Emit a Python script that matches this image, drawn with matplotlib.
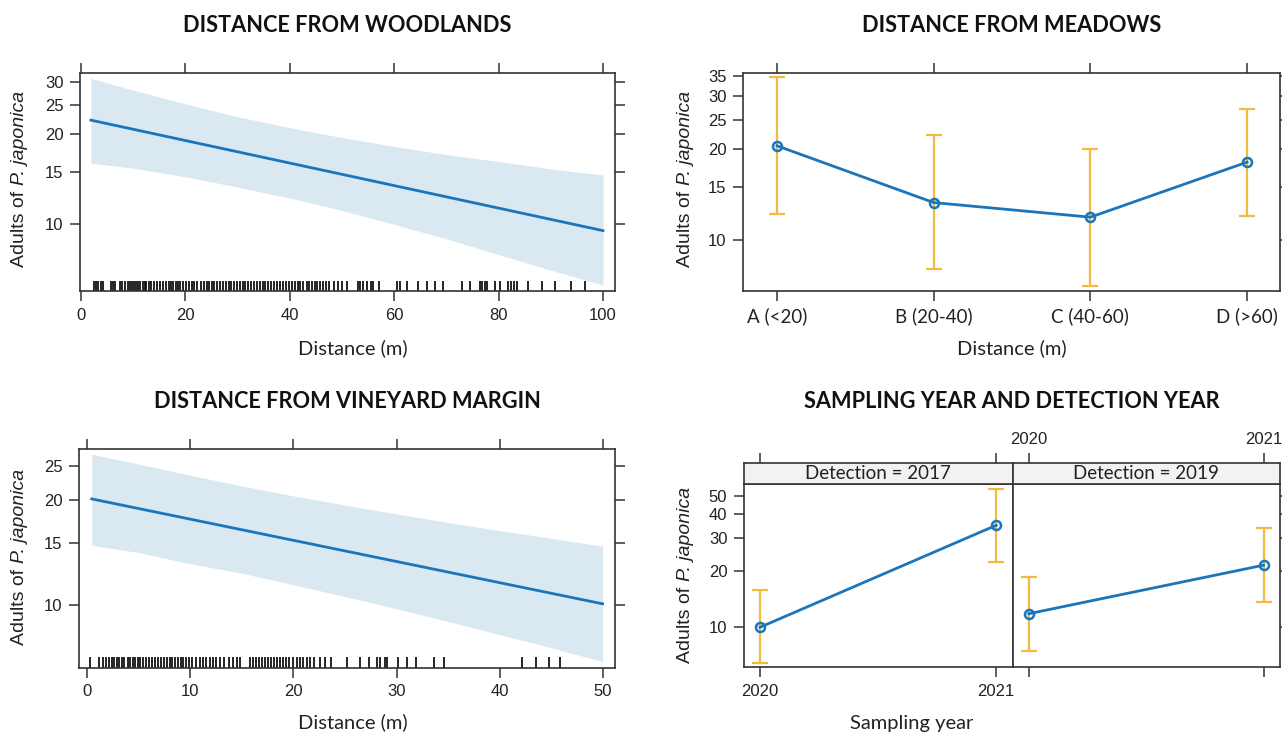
import matplotlib.pyplot as plt
from matplotlib.ticker import NullLocator

plt.rcParams['font.family'] = ['Liberation Sans', 'DejaVu Sans']

# --- data ---
# distance from woodlands (m)
wood_line_x = [1.9, 100]
wood_line_y = [22.3, 9.5]
wood_band_x = [1.9, 10, 20, 30, 42, 50, 60, 70, 80, 90, 100]
wood_band_hi = [30.8, 28.1, 25.3, 22.9, 20.7, 19.5, 18.2, 17.1, 16.2, 15.3, 14.6]
wood_band_lo = [16.0, 15.4, 14.4, 13.3, 12.0, 11.1, 9.97, 8.92, 7.9, 7.0, 6.24]
wood_rug = [2.4, 2.8, 3.2, 3.9, 4.3, 5.8, 6.2, 6.6, 7.4, 7.8, 8.5, 9.0, 9.3, 9.7,
            10.2, 10.6, 11.0, 11.3, 11.8, 12.2, 12.5, 13.0, 13.4, 13.9, 14.6, 15.1,
            15.7, 16.3, 16.8, 17.2, 17.6, 18.1, 18.6, 19.0, 19.5, 20.1, 20.6, 21.2,
            21.7, 22.3, 23.0, 23.6, 24.2, 24.6, 25.0, 25.5, 26.0, 26.6, 27.2, 27.8,
            28.3, 28.8, 29.3, 29.8, 30.4, 31.0, 31.5, 32.0, 32.6, 33.1, 33.7, 34.3,
            34.8, 35.3, 35.9, 36.4, 37.0, 37.6, 38.2, 38.7, 39.3, 39.8, 40.4, 41.0,
            41.5, 42.0, 42.6, 43.2, 43.7, 44.3, 44.8, 45.3, 45.8, 46.3, 47.0, 47.6,
            48.4, 49.2, 50.0, 51.0, 53.0, 53.5, 54.0, 54.8, 55.5, 56.0, 57.0, 60.5,
            61.2, 62.4, 64.5, 66.3, 67.8, 69.3, 73.0, 74.5, 76.4, 76.9, 77.3, 77.8,
            79.3, 80.3, 81.8, 82.3, 82.9, 83.5, 85.6, 88.3, 90.8, 93.9, 96.6]

# distance from meadows (classes)
meadow_labels = ['A (<20)', 'B (20-40)', 'C (40-60)', 'D (>60)']
meadow_fit = [20.5, 13.3, 11.9, 18.1]
meadow_hi = [34.5, 22.3, 20.0, 27.1]
meadow_lo = [12.2, 8.0, 7.05, 12.0]

# distance from vineyard margin (m)
vine_line_x = [0.43, 50]
vine_line_y = [20.1, 10.05]
vine_band_x = [0.43, 5, 10, 15, 20, 25, 30, 35, 40, 45, 50]
vine_band_hi = [27.0, 25.3, 23.5, 21.9, 20.5, 19.3, 18.2, 17.2, 16.3, 15.5, 14.7]
vine_band_lo = [14.8, 14.1, 13.1, 12.3, 11.4, 10.55, 9.73, 8.95, 8.2, 7.52, 6.86]
vine_rug = [0.26, 1.1, 1.5, 1.8, 2.1, 2.4, 2.6, 2.9, 3.1, 3.4, 3.6, 3.9, 4.1, 4.4,
            4.6, 4.9, 5.1, 5.4, 5.7, 6.0, 6.3, 6.6, 6.9, 7.1, 7.4, 7.7, 8.0, 8.2,
            8.5, 8.8, 9.1, 9.3, 9.6, 9.9, 10.2, 10.5, 10.9, 11.2, 11.5, 11.9, 12.2,
            12.5, 12.9, 13.3, 13.7, 14.1, 14.5, 14.8, 15.8, 16.1, 16.4, 16.7, 16.9,
            17.2, 17.5, 17.8, 18.1, 18.4, 18.7, 19.0, 19.3, 19.6, 20.0, 20.3, 20.6,
            20.9, 21.3, 21.6, 22.0, 22.6, 23.1, 23.6, 25.2, 26.5, 27.3, 28.1, 28.4,
            28.9, 29.1, 30.1, 31.0, 31.9, 33.6, 34.6, 42.2, 43.5, 44.8, 45.9]

# sampling year x detection year
years = ['2020', '2021']
det_panels = ['Detection = 2017', 'Detection = 2019']
det_fit = [[10.0, 34.9], [11.8, 21.4]]
det_hi = [[15.7, 54.4], [18.5, 33.6]]
det_lo = [[6.48, 22.3], [7.48, 13.6]]

# --- styling ---
W, H = 1282, 734
BLUE = '#1b75bb'
BAND = '#d9e8f1'
ORANGE = '#f4b942'
FRAME = '#333333'
TXT = '#222222'
LABEL_FONT = ['Lato', 'DejaVu Sans']

fig = plt.figure(figsize=(W / 100, H / 100), dpi=100)
renderer = fig.canvas.get_renderer()


def box(l, t, r, b):
    return fig.add_axes([l / W, 1 - b / H, (r - l) / W, (b - t) / H])


def frame(ax):
    for s in ax.spines.values():
        s.set_color(FRAME)
        s.set_linewidth(1.2)
    ax.tick_params(which='both', direction='out', length=7, width=1.1, pad=5,
                   color=FRAME, labelcolor=TXT, labelsize=12,
                   top=True, right=True, labeltop=False, labelright=False)


def log_y(ax, lim, ticks):
    ax.set_yscale('log')
    ax.set_ylim(*lim)
    ax.set_yticks(ticks)
    ax.set_yticklabels([str(t) for t in ticks])
    ax.yaxis.set_minor_locator(NullLocator())


def title(x, y, s):
    fig.text(x / W, 1 - y / H, s, ha='center', va='center', fontsize=15.7,
             fontweight='bold', family=LABEL_FONT, color='#111111')


def xlab(x, y, s):
    fig.text(x / W, 1 - y / H, s, ha='center', va='center', fontsize=14.5,
             family=LABEL_FONT, color=TXT)


def ylab(xc, yc):
    # "Adults of" upright, species name in italics, stacked along one rotated line
    kw = dict(rotation=90, rotation_mode='anchor', ha='left', va='center',
              fontsize=14, color=TXT)
    t1 = fig.text(0, 0, 'Adults of', **kw)
    t2 = fig.text(0, 0, 'P. japonica', style='italic', **kw)
    l1 = t1.get_window_extent(renderer).height
    l2 = t2.get_window_extent(renderer).height
    gap = 5.4
    start = yc + (l1 + gap + l2) / 2
    t1.set_position((xc / W, 1 - start / H))
    t2.set_position((xc / W, 1 - (start - l1 - gap) / H))


def rug(ax, vals):
    ax.vlines(vals, 0, 0.047, transform=ax.get_xaxis_transform(),
              color='black', lw=1.2)


# woodlands
ax = box(80, 73, 615, 291)
frame(ax)
ax.fill_between(wood_band_x, wood_band_lo, wood_band_hi, color=BAND, lw=0)
ax.plot(wood_line_x, wood_line_y, color=BLUE, lw=2)
rug(ax, wood_rug)
ax.set_xlim(-0.2, 102.3)
ax.set_xticks([0, 20, 40, 60, 80, 100])
log_y(ax, (5.96, 32.1), [10, 15, 20, 25, 30])
ylab(20, 179)
xlab(353, 348, 'Distance (m)')
title(347, 25, 'DISTANCE FROM WOODLANDS')

# meadows
ax = box(743, 73, 1280, 291)
frame(ax)
pos = [1, 2, 3, 4]
yerr = [[f - l for f, l in zip(meadow_fit, meadow_lo)],
        [h - f for f, h in zip(meadow_fit, meadow_hi)]]
ax.errorbar(pos, meadow_fit, yerr=yerr, fmt='none', ecolor=ORANGE,
            elinewidth=1.6, capsize=5.5, capthick=1.6)
ax.plot(pos, meadow_fit, color=BLUE, lw=2, marker='o', ms=6.5, mfc='none',
        mew=1.8)
ax.set_xlim(0.783, 4.21)
ax.set_xticks(pos)
ax.set_xticklabels(meadow_labels, family=LABEL_FONT, fontsize=13.5)
log_y(ax, (6.78, 35.7), [10, 15, 20, 25, 30, 35])
ylab(685, 179)
xlab(1012, 348, 'Distance (m)')
title(1012, 25, 'DISTANCE FROM MEADOWS')

# vineyard margin
ax = box(79.3, 449.3, 615, 667.7)
frame(ax)
ax.fill_between(vine_band_x, vine_band_lo, vine_band_hi, color=BAND, lw=0)
ax.plot(vine_line_x, vine_line_y, color=BLUE, lw=2)
rug(ax, vine_rug)
ax.set_xlim(-0.78, 51.2)
ax.set_xticks([0, 10, 20, 30, 40, 50])
log_y(ax, (6.59, 27.9), [10, 15, 20, 25])
ylab(20, 557)
xlab(353, 722, 'Distance (m)')
title(347, 401, 'DISTANCE FROM VINEYARD MARGIN')

# sampling year x detection year
edges = [(744, 1012.7), (1012.7, 1280)]
for i, (l, r) in enumerate(edges):
    ax = box(l, 484, r, 667.3)
    frame(ax)
    ax.set_xlim(-0.068, 1.07)
    ax.set_xticks([0, 1])
    log_y(ax, (6.12, 57.9), [10, 20, 30, 40, 50])
    fit = det_fit[i]
    yerr = [[f - lo for f, lo in zip(fit, det_lo[i])],
            [h - f for f, h in zip(fit, det_hi[i])]]
    ax.errorbar([0, 1], fit, yerr=yerr, fmt='none', ecolor=ORANGE,
                elinewidth=1.6, capsize=5.5, capthick=1.6)
    ax.plot([0, 1], fit, color=BLUE, lw=2, marker='o', ms=6.5, mfc='none',
            mew=1.8)
    if i == 0:
        ax.set_xticklabels(years)
        ax.tick_params(right=False, top=False)
    else:
        ax.tick_params(left=False, top=False, labelleft=False,
                       labelbottom=False)

    st = box(l, 463.3, r, 484)
    frame(st)
    st.set_facecolor('#f2f2f2')
    st.set_xlim(-0.068, 1.07)
    st.set_xticks([0, 1])
    st.set_xticklabels(years)
    st.set_yticks([])
    st.tick_params(bottom=False, labelbottom=False, right=False, left=False,
                   labeltop=(i == 1))
    st.text(0.5, 0.5, det_panels[i], transform=st.transAxes, ha='center',
            va='center', fontsize=13.5, family=LABEL_FONT, color=TXT)

ylab(685, 575)
xlab(912, 723, 'Sampling year')
title(1012, 401, 'SAMPLING YEAR AND DETECTION YEAR')

fig.savefig('out.png', dpi=100)
